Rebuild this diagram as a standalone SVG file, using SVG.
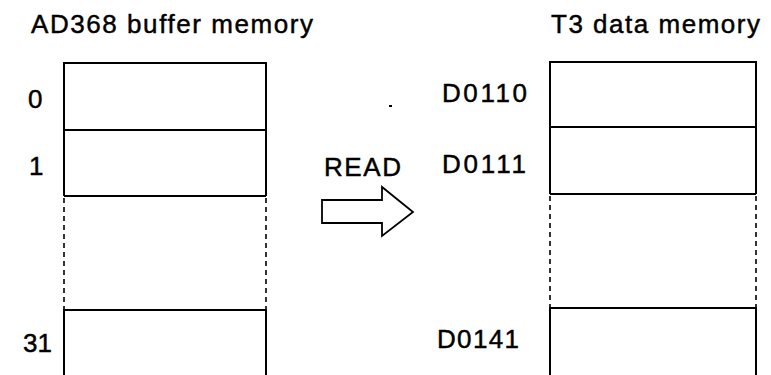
<svg xmlns="http://www.w3.org/2000/svg" width="771" height="375" viewBox="0 0 771 375">
<style>
text{font-family:"Liberation Sans",Arial,sans-serif;font-size:26px;fill:#000;stroke:#000;stroke-width:0.45}
.s{fill:none;stroke:#000;stroke-width:2}
.d{fill:none;stroke:#000;stroke-width:1.6;stroke-dasharray:5 4}
</style>
<rect width="771" height="375" fill="#fff"/>
<g id="titles">
<text x="31" y="33" textLength="282" lengthAdjust="spacing">AD368 buffer memory</text>
<text x="551" y="33" textLength="209" lengthAdjust="spacing">T3 data memory</text>
</g>
<g id="buffer-memory">
<path class="s" d="M64,196 V63 H266 V196 M64,130 H266 M64,196 H266 M64,375 V310 H266 V375"/>
</g>
<g id="buffer-gap">
<path class="d" d="M64,198 V310 M266,198 V310"/>
</g>
<g id="buffer-labels">
<text x="28" y="108">0</text>
<text x="29" y="175">1</text>
<text x="23" y="352">31</text>
</g>
<g id="data-memory">
<path class="s" d="M550,194 V62 H756 V194 M550,127 H756 M550,194 H756 M550,375 V308 H756 V375"/>
</g>
<g id="data-gap">
<path class="d" d="M550,196 V308 M756,196 V308"/>
</g>
<g id="data-labels">
<text x="442" y="102" textLength="85" lengthAdjust="spacing">D0110</text>
<text x="442" y="173" textLength="84" lengthAdjust="spacing">D0111</text>
<text x="437" y="348" textLength="82" lengthAdjust="spacing">D0141</text>
</g>
<g id="connectors">
<polygon points="322,200 382,200 382,187 413,212 382,236 382,223 322,223" fill="#fff" stroke="#000" stroke-width="1.8" stroke-linejoin="miter"/>
<text x="324" y="176" textLength="77" lengthAdjust="spacing">READ</text>
</g>
<rect x="389" y="105" width="3" height="2" fill="#000"/>
</svg>
